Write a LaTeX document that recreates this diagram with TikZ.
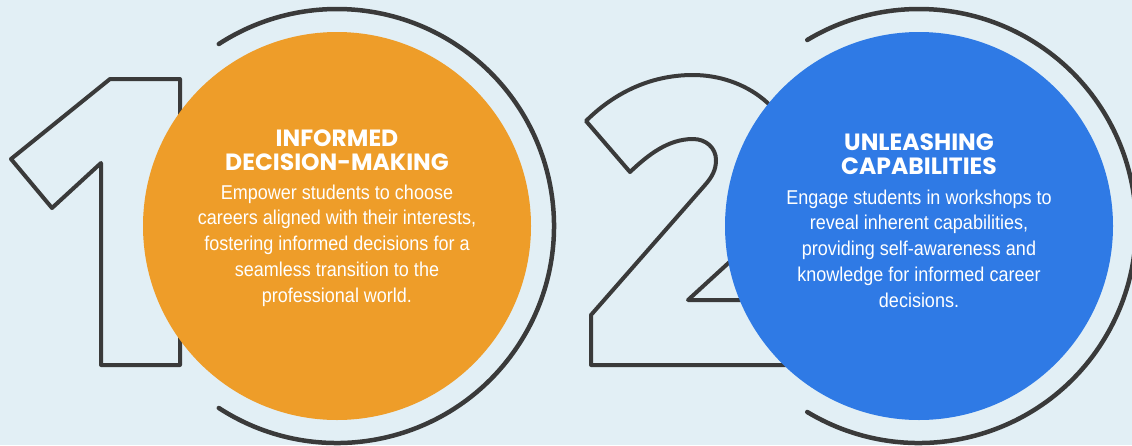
\documentclass[tikz,border=0pt]{standalone}
\usepackage{fontspec}
\setmainfont{Liberation Sans}
\newfontfamily\titlefont{Poppins}
\newfontfamily\bodyfont{Liberation Sans}[FakeStretch=0.90]
\definecolor{bgc}{HTML}{E2EFF5}
\definecolor{orangec}{HTML}{EE9D29}
\definecolor{bluec}{HTML}{2F7AE5}
\definecolor{inkc}{HTML}{3A3A3A}
\tikzset{
  numeral/.style={draw=inkc, line width=4pt, line join=round},
  disc/.style={circle, minimum size=388pt, inner sep=0pt, draw=none},
  ring/.style={draw=inkc, line width=4.5pt, line cap=round},
  title/.style={text=white, align=center, inner sep=0pt, font=\titlefont\bfseries\fontsize{23.5}{24}\selectfont},
  body/.style={text=white, align=center, inner sep=0pt, font=\bodyfont\fontsize{20}{25.7}\selectfont},
}
\begin{document}
\begin{tikzpicture}[x=1pt, y=-1pt]
\useasboundingbox (0,0) rectangle (1132,445);
\fill[bgc] (0,0) rectangle (1132,445);
\clip (0,0) rectangle (1132,445);
% numeral one
\draw[numeral] (110,79) -- (180,79) -- (180,365) -- (101,365) -- (101,163) -- (52,208) -- (11,159) -- cycle;
% numeral two
\draw[numeral] (586,121) .. controls (612,95) and (648,75) .. (693,75)
  .. controls (745,75) and (795,110) .. (795,165)
  .. controls (795,195) and (785,210) .. (770,225)
  -- (688,300) -- (810,300) -- (810,365) -- (591,365) -- (591,315) -- (705,185)
  .. controls (712,177) and (716,170) .. (716,160)
  .. controls (716,148) and (706,139) .. (693,139)
  .. controls (668,139) and (648,155) .. (630,172) -- cycle;
% discs
\node[disc, fill=orangec] (c1) at (337,226) {};
\node[disc, fill=bluec] (c2) at (919,226) {};
% rings
\draw[ring] (c1.center) ++(123:217) arc[start angle=123, end angle=-123, radius=217];
\draw[ring] (c2.center) ++(121:217) arc[start angle=121, end angle=-121, radius=217];
% texts
\node[title, anchor=base] (h1) at (337,170) {INFORMED\\DECISION-MAKING};
\node[body, anchor=base] (b1) at (337,302) {Empower students to choose\\careers aligned with their interests,\\fostering informed decisions for a\\seamless transition to the\\professional world.};
\node[title, anchor=base] (h2) at (919,174) {UNLEASHING\\CAPABILITIES};
\node[body, anchor=base] (b2) at (919,307) {Engage students in workshops to\\reveal inherent capabilities,\\providing self-awareness and\\knowledge for informed career\\decisions.};
\end{tikzpicture}
\end{document}
